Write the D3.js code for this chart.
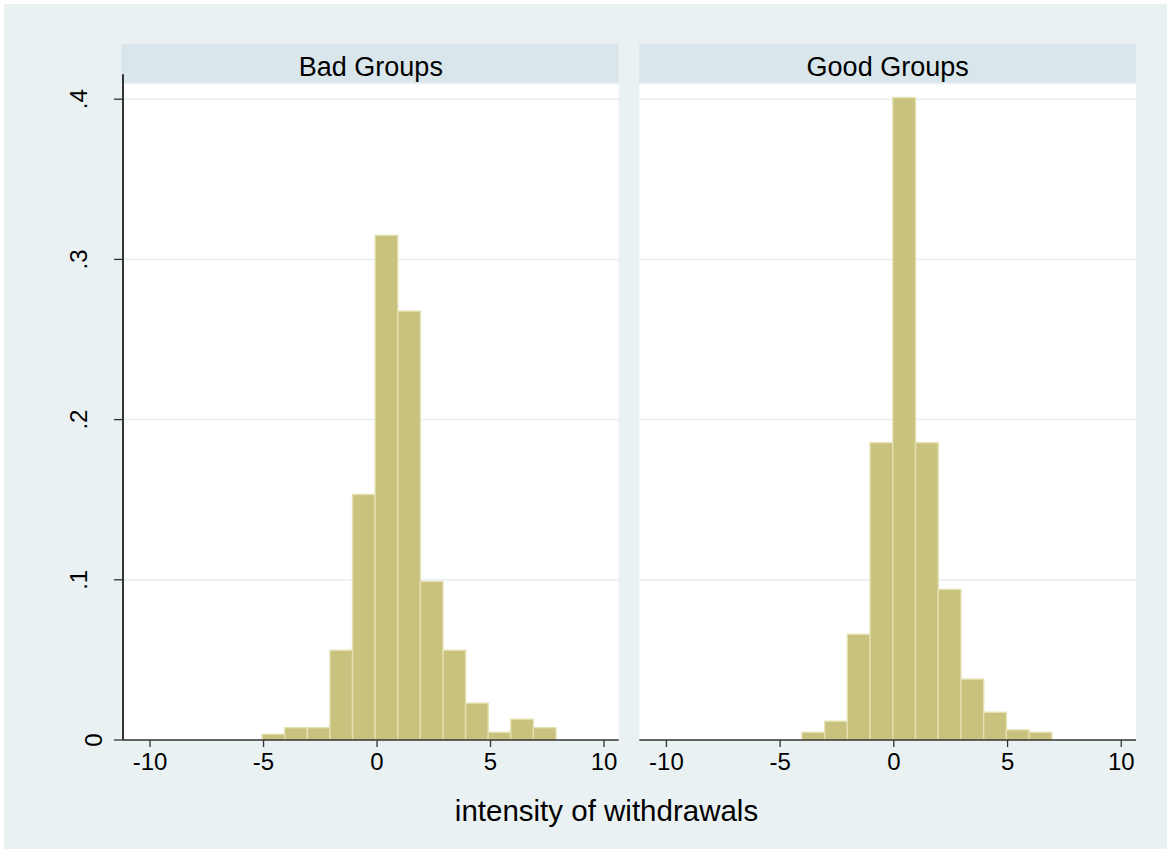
<!DOCTYPE html>
<html>
<head>
<meta charset="utf-8">
<script src="https://cdn.jsdelivr.net/npm/d3@7"></script>
<style>
  html, body { margin: 0; padding: 0; background: #ffffff; }
  svg { display: block; }
  text { font-family: "Liberation Sans", Arial, Helvetica, sans-serif; fill: #000; }
</style>
</head>
<body>
<svg id="chart" width="1167" height="849"></svg>
<script>
// ---------------- data ----------------
const panels = ["Bad Groups", "Good Groups"];
const badBinStart = -5.04;
const badBinWidth = 0.996;
const badDensity = [0.0036, 0.0077, 0.0077, 0.056, 0.1533, 0.315, 0.2677, 0.099, 0.056, 0.023, 0.0048, 0.013, 0.0077];
const goodBinStart = -4.02;
const goodBinWidth = 0.999;
const goodDensity = [0.0048, 0.0117, 0.066, 0.1856, 0.401, 0.1856, 0.094, 0.038, 0.0173, 0.0063, 0.0048];
const xTicks = [-10, -5, 0, 5, 10];
const yTicks = [0, 0.1, 0.2, 0.3, 0.4];
const yTickLabels = ["0", ".1", ".2", ".3", ".4"];
const xTitle = "intensity of withdrawals";

// ---------------- layout ----------------
const W = 1167, H = 849;
const svg = d3.select("#chart");
const plotTop = 84.3, plotBottom = 740;
const headerTop = 44, headerBottom = 82.7;
const panelX = [[123, 618.7], [639.3, 1136]];
const xDomain = [-11.17, 10.67];
const yDomain = [0, 0.4093];

const colBg = "#eaf1f3", colHeader = "#d9e6eb", colGrid = "#e6eef1";
const colBar = "#c9c27f", colBarStroke = "#e4e0b0", colAxis = "#333333";

svg.append("rect").attr("x", 4).attr("y", 4).attr("width", W - 4).attr("height", H - 4).attr("fill", colBg);

const y = d3.scaleLinear().domain(yDomain).range([plotBottom, plotTop]);

const series = [
  { start: badBinStart, width: badBinWidth, dens: badDensity },
  { start: goodBinStart, width: goodBinWidth, dens: goodDensity }
];

panels.forEach((name, i) => {
  const [x0, x1] = panelX[i];
  const x = d3.scaleLinear().domain(xDomain).range([x0, x1]);
  const g = svg.append("g");

  // header strip
  g.append("rect").attr("x", x0 - (i === 0 ? 1.7 : 0)).attr("y", headerTop)
    .attr("width", x1 - x0 + (i === 0 ? 1.7 : 0)).attr("height", headerBottom - headerTop)
    .attr("fill", colHeader);
  g.append("text").attr("x", (x0 + x1) / 2).attr("y", 75.5)
    .attr("text-anchor", "middle").style("font-size", "27px").text(name);

  // plot area
  g.append("rect").attr("x", x0).attr("y", plotTop)
    .attr("width", x1 - x0).attr("height", plotBottom - plotTop).attr("fill", "#ffffff");

  // grid lines
  g.selectAll("line.grid").data(yTicks.filter(t => t > 0)).enter().append("line")
    .attr("x1", x0).attr("x2", x1)
    .attr("y1", d => y(d)).attr("y2", d => y(d))
    .attr("stroke", colGrid).attr("stroke-width", 1.5);

  // bars
  const s = series[i];
  const bins = s.dens.map((v, k) => ({ lo: s.start + k * s.width, hi: s.start + (k + 1) * s.width, v }));
  g.selectAll("rect.bar").data(bins).enter().append("rect")
    .attr("x", d => x(d.lo)).attr("width", d => x(d.hi) - x(d.lo))
    .attr("y", d => y(d.v)).attr("height", d => y(0) - y(d.v))
    .attr("fill", colBar).attr("stroke", colBarStroke).attr("stroke-width", 1.4);

  // x axis
  const xAxis = d3.axisBottom(x).tickValues(xTicks).tickSize(7).tickSizeOuter(0).tickPadding(6)
    .tickFormat(d3.format("d"));
  const ax = g.append("g").attr("transform", `translate(0,${plotBottom})`).call(xAxis);
  ax.select(".domain").attr("stroke", colAxis).attr("stroke-width", 1.3).attr("d", `M${x0},0H${x1}`);
  ax.selectAll(".tick line").attr("stroke", colAxis).attr("stroke-width", 1.3);
  ax.selectAll(".tick text").style("font-size", "24px").attr("fill", "#000")
    .style("font-family", "Liberation Sans, Arial, sans-serif")
    .text(d => d < 0 ? "-" + Math.abs(d) : String(d));
});

// y axis (left panel only)
const yAxisG = svg.append("g").attr("transform", `translate(${panelX[0][0]},0)`);
yAxisG.append("line").attr("x1", 0).attr("x2", 0).attr("y1", plotTop - 10).attr("y2", plotBottom)
  .attr("stroke", colAxis).attr("stroke-width", 2);
yAxisG.selectAll("line.tick").data(yTicks).enter().append("line")
  .attr("x1", -9).attr("x2", 0).attr("y1", d => y(d)).attr("y2", d => y(d))
  .attr("stroke", colAxis).attr("stroke-width", 1.3);
const yl = svg.selectAll("text.ylab").data(yTicks).enter().append("text")
  .attr("class", "ylab").attr("text-anchor", "middle").style("font-size", "24px")
  .text((d, k) => yTickLabels[k]);
yl.each(function (d) {
  const len = this.getComputedTextLength();
  const bx = 133.3 - 2.31 * len;
  d3.select(this).attr("transform", `translate(${bx},${y(d)}) rotate(-90)`);
});

// x title
svg.append("text").attr("x", 606.5).attr("y", 820.5).attr("text-anchor", "middle")
  .style("font-size", "29.5px").text(xTitle);
</script>
</body>
</html>
